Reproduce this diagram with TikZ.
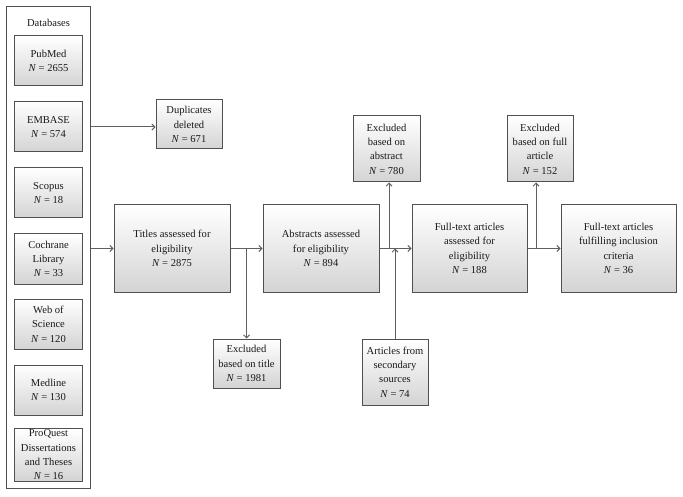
\documentclass[tikz,border=0pt]{standalone}
\usepackage{fontspec}
\setmainfont{Liberation Serif}
\usetikzlibrary{arrows.meta,positioning}
\definecolor{edge}{HTML}{505050}
\definecolor{lnk}{HTML}{606060}
\tikzset{
  box/.style={draw=edge, line width=1bp, top color=white, bottom color=black!17,
    align=center, inner sep=1bp, font=\fontsize{10.6}{14.4}\selectfont, text=black!90},
  outer/.style={draw=edge, line width=1bp, fill=white},
  arr/.style={draw=lnk, line width=1bp, -{Straight Barb[length=3bp,width=6bp]}},
}
\newcommand{\NN}[1]{\textit{N} = #1}
\begin{document}
\begin{tikzpicture}[x=1bp,y=-1bp]
\useasboundingbox (0,0) rectangle (683,497);
\node[outer, minimum width=83bp, minimum height=481bp] (dbs) at (48.5,247.5) {};
\node[font=\fontsize{10.6}{14.4}\selectfont, text=black!90] (dblabel) at (48.5,23) {Databases};
\node[box, minimum width=67bp, minimum height=50bp] (pubmed) at (48.5,61) {PubMed\\\NN{2655}};
\node[box, minimum width=67bp, minimum height=50bp] (embase) at (48.5,127) {EMBASE\\\NN{574}};
\node[box, minimum width=67bp, minimum height=50bp] (scopus) at (48.5,193) {Scopus\\\NN{18}};
\node[box, minimum width=67bp, minimum height=50bp] (cochrane) at (48.5,259) {Cochrane\\Library\\\NN{33}};
\node[box, minimum width=67bp, minimum height=50bp] (wos) at (48.5,324) {Web of\\Science\\\NN{120}};
\node[box, minimum width=67bp, minimum height=50bp] (medline) at (48.5,390) {Medline\\\NN{130}};
\node[box, minimum width=67bp, minimum height=50bp] (proquest) at (48.5,455) {ProQuest\\Dissertations\\and Theses\\\NN{16}};

\node[box, minimum width=66bp, minimum height=49bp] (dup) at (189,124.5) {Duplicates\\deleted\\\NN{671}};
\node[box, minimum width=116bp, minimum height=87bp] (titles) at (172,248.5) {Titles assessed for\\eligibility\\\NN{2875}};
\node[box, minimum width=116bp, minimum height=87bp] (abstracts) at (321,248.5) {Abstracts assessed\\for eligibility\\\NN{894}};
\node[box, minimum width=115bp, minimum height=87bp] (fulltext) at (469.5,248.5) {Full-text articles\\assessed for\\eligibility\\\NN{188}};
\node[box, minimum width=115bp, minimum height=87bp] (final) at (618.5,248.5) {Full-text articles\\fulfilling inclusion\\criteria\\\NN{36}};
\node[box, minimum width=67bp, minimum height=49bp] (extitle) at (246.5,363.5) {Excluded\\based on title\\\NN{1981}};
\node[box, minimum width=66bp, minimum height=66bp] (secondary) at (395,372) {Articles from\\secondary\\sources\\\NN{74}};
\node[box, minimum width=67bp, minimum height=66bp] (exabs) at (386.5,149) {Excluded\\based on\\abstract\\\NN{780}};
\node[box, minimum width=66bp, minimum height=66bp] (exfull) at (540,149) {Excluded\\based on full\\article\\\NN{152}};

\coordinate (jabs) at (389,248.5);
\coordinate (jfull) at (536,248.5);

\draw[arr] (dbs.east |- 0,127) -- (dup.west |- 0,127);
\draw[arr] (dbs.east |- titles.west) -- (titles.west);
\draw[arr] (titles.east) -- (abstracts.west);
\draw[arr] (abstracts.east) -- (fulltext.west);
\draw[arr] (fulltext.east) -- (final.west);
\draw[arr] (extitle.north |- titles.east) -- (extitle.north);
\draw[arr] (jabs) -- (jabs |- exabs.south);
\draw[arr] (jfull) -- (jfull |- exfull.south);
\draw[arr] (secondary.north) -- (secondary.north |- abstracts.east);
\end{tikzpicture}
\end{document}
